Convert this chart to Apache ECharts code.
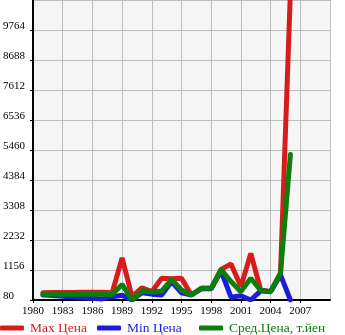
<!DOCTYPE html>
<html><head><meta charset="utf-8">
<script src="https://cdn.jsdelivr.net/npm/echarts@6/dist/echarts.min.js"></script>
<style>html,body{margin:0;padding:0;background:#fff}#c{width:345px;height:335px}</style>
</head><body><div id="c"></div>
<script>
const years = [1981,1982,1983,1984,1985,1986,1987,1988,1989,1990,1991,1992,1993,1994,1995,1996,1997,1998,1999,2000,2001,2002,2003,2004,2005,2006];
const maxPrice = [340,345,350,350,355,355,360,340,1590,200,520,380,860,840,860,260,500,500,1180,1370,560,1750,440,380,1040,11150];
const minPrice = [260,240,210,190,160,140,120,200,250,80,340,290,260,740,340,260,480,480,1120,180,230,80,410,380,980,80];
const avgPrice = [290,288,286,285,284,283,282,280,640,80,410,370,400,820,440,260,500,500,1170,740,380,860,420,380,1040,5300];
const yTickLabels = [80,1156,2232,3308,4384,5460,6536,7612,8688,9764];
const xTickLabels = [1980,1983,1986,1989,1992,1995,1998,2001,2004,2007];
const seriesNames = ['Max Цена','Min Цена','Сред.Цена, т.йен'];
const colors = ['#d81c1c','#1c1cdc','#0a7f0a'];

const base = yTickLabels[0];
const step = yTickLabels[1] - yTickLabels[0];
const font = '"Liberation Serif", "DejaVu Serif", serif';
const toData = arr => years.map((y, i) => [y, arr[i] - base]);

const chart = echarts.init(document.getElementById('c'), null, {renderer: 'canvas'});
const legendLefts = [0, 97, 199];
chart.setOption({
  animation: false,
  grid: {left: 30, right: 15, top: 0, bottom: 35, show: true, backgroundColor: '#f6f6f6', borderWidth: 0, containLabel: false},
  xAxis: {
    type: 'value', min: xTickLabels[0], max: 2010, interval: 3,
    axisLine: {show: true, onZero: false, lineStyle: {color: '#000', width: 2}},
    axisTick: {show: true, length: 3, lineStyle: {color: '#000'}},
    axisLabel: {showMaxLabel: false, margin: 6, color: '#000', fontFamily: font, fontSize: 11,
      formatter: v => xTickLabels.includes(v) ? String(v) : ''},
    splitLine: {show: true, lineStyle: {color: '#bdbdbd', width: 1}}
  },
  yAxis: {
    type: 'value', min: 0, max: step * 10, interval: step,
    axisLine: {show: true, lineStyle: {color: '#000', width: 2}},
    axisTick: {show: true, length: 3, lineStyle: {color: '#000'}},
    axisLabel: {showMaxLabel: false, margin: 30, align: 'left', color: '#000', fontFamily: font, fontSize: 11,
      verticalAlign: 'bottom', lineHeight: 8,
      formatter: v => { const i = Math.round(v / step); return yTickLabels[i] !== undefined ? String(yTickLabels[i]) : ''; }},
    splitLine: {show: true, lineStyle: {color: '#bdbdbd', width: 1}}
  },
  legend: seriesNames.map((n, i) => ({
    data: [n], left: legendLefts[i], top: 321, padding: 0, itemGap: 0,
    icon: 'roundRect', itemWidth: 24, itemHeight: 5,
    textStyle: {color: colors[i], fontFamily: font, fontSize: 13.5, padding: [0, 0, 0, 1]}
  })),
  series: [maxPrice, minPrice, avgPrice].map((arr, i) => ({
    name: seriesNames[i], type: 'line', data: toData(arr), showSymbol: false, symbol: 'none',
    clip: true, color: colors[i],
    lineStyle: {width: 5, color: colors[i], cap: 'round'}
  }))
});
</script></body></html>
